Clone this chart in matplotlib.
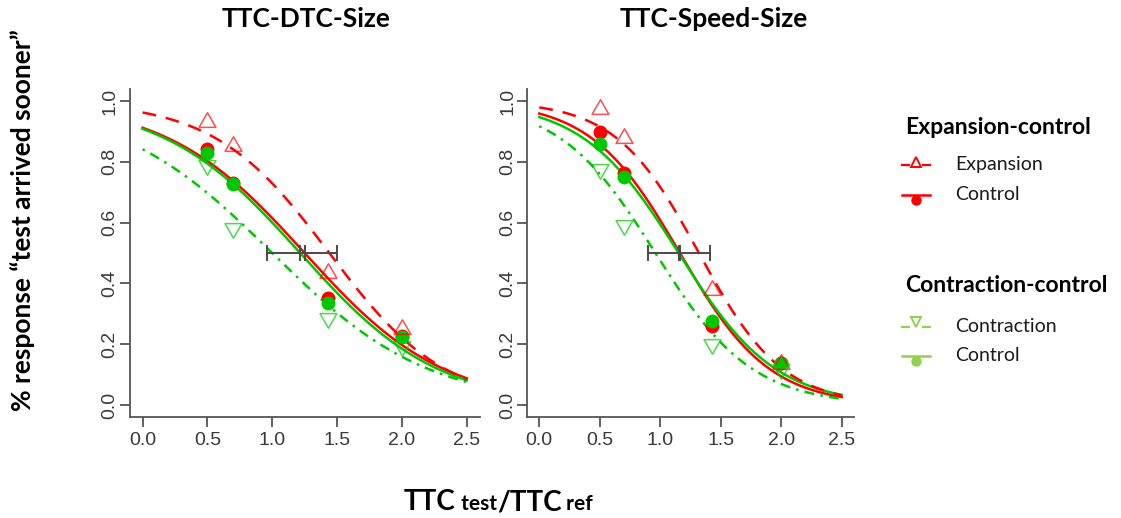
import numpy as np
import matplotlib
matplotlib.use("Agg")
import matplotlib.pyplot as plt
from matplotlib.path import Path
from matplotlib.lines import Line2D

# ---- data -------------------------------------------------------------
ratio = [0.5, 0.7, 1.43, 2.0]          # TTC test / TTC ref levels

panel_titles = ["TTC-DTC-Size", "TTC-Speed-Size"]

# observed proportions "test arrived sooner"
dtc_expansion   = [0.930, 0.851, 0.433, 0.249]
dtc_ctrl_exp    = [0.842, 0.729, 0.353, 0.228]
dtc_ctrl_con    = [0.828, 0.726, 0.334, 0.225]
dtc_contraction = [0.788, 0.581, 0.285, 0.195]

spd_expansion   = [0.975, 0.878, 0.377, 0.135]
spd_ctrl_exp    = [0.899, 0.764, 0.260, 0.137]
spd_ctrl_con    = [0.859, 0.751, 0.277, 0.139]
spd_contraction = [0.776, 0.592, 0.200, 0.120]

# fitted logistic psychometric functions: PSE and spread
# order: expansion, control(exp), control(con), contraction
dtc_pse   = [1.44, 1.25, 1.215, 1.00]
dtc_scale = [0.445, 0.535, 0.53, 0.60]
spd_pse   = [1.32, 1.162, 1.152, 0.96]
spd_scale = [0.345, 0.37, 0.40, 0.40]

# confidence interval of the control PSE
dtc_ci = [0.96, 1.50]
spd_ci = [0.90, 1.41]

x_ticks = [0.0, 0.5, 1.0, 1.5, 2.0, 2.5]
y_ticks = [0.0, 0.2, 0.4, 0.6, 0.8, 1.0]

# ---- styling -----------------------------------------------------------
RED = "#FF0000"
GREEN = "#00C800"
LEG_GREEN = "#92D050"
AX_COL = "#555555"
TXT_FONT = ["Lato", "DejaVu Sans"]
NUM_FONT = ["Liberation Sans", "DejaVu Sans"]

W, H = 1121, 518
fig = plt.figure(figsize=(W / 100, H / 100), dpi=100)


def fx(px):
    return px / W


def fy(py):
    return 1 - py / H


# R-style triangles centred on their centroid
_tri = np.array([[0, 1.5551], [1.3468, -0.7776], [-1.3468, -0.7776], [0, 1.5551]])
TRI_UP = Path(_tri, [Path.MOVETO, Path.LINETO, Path.LINETO, Path.CLOSEPOLY])
TRI_DN = Path(_tri * [1, -1], [Path.MOVETO, Path.LINETO, Path.LINETO, Path.CLOSEPOLY])


def logistic(x, mu, s):
    return 1.0 / (1.0 + np.exp((x - mu) / s))


def draw_panel(ax, obs, pse, scale, ci):
    xx = np.linspace(0, 2.5, 300)
    exp_o, ce_o, cc_o, con_o = obs
    lw = 1.8
    ax.plot(xx, logistic(xx, pse[1], scale[1]), color=RED, lw=lw, zorder=3)
    ax.plot(xx, logistic(xx, pse[2], scale[2]), color=GREEN, lw=lw, zorder=3)
    ax.plot(xx, logistic(xx, pse[0], scale[0]), color=RED, lw=lw,
            dashes=(5.5, 4), zorder=3)
    ax.plot(xx, logistic(xx, pse[3], scale[3]), color=GREEN, lw=lw,
            dashes=(1, 2.5, 4, 2.5), zorder=3)

    ax.plot(ratio, ce_o, "o", color=RED, ms=9, mec=RED, zorder=4)
    ax.plot(ratio, cc_o, "o", color=GREEN, ms=9, mec=GREEN, zorder=5)
    ax.plot(ratio, exp_o, linestyle="none", marker=TRI_UP, ms=14,
            mfc="none", mec=RED, mew=1.1, alpha=0.7, zorder=6)
    ax.plot(ratio, con_o, linestyle="none", marker=TRI_DN, ms=14,
            mfc="none", mec=GREEN, mew=1.1, alpha=0.7, zorder=6)

    # PSE interval of the control conditions
    ax.plot(ci, [0.5, 0.5], color="#4a4a4a", lw=1.4, zorder=7)
    for xv in list(ci) + [pse[1], pse[2]]:
        ax.plot([xv, xv], [0.5 - 0.022, 0.5 + 0.022], color="#4a4a4a",
                lw=1.4, zorder=7)

    ax.set_xlim(-0.1, 2.6)
    ax.set_ylim(-0.04, 1.04)
    ax.set_xticks(x_ticks)
    ax.set_yticks(y_ticks)
    ax.set_xticklabels([f"{v:.1f}" for v in x_ticks])
    ax.set_yticklabels([f"{v:.1f}" for v in y_ticks], rotation=90,
                       va="center")
    for sp in ("top", "right"):
        ax.spines[sp].set_visible(False)
    for sp in ("left", "bottom"):
        ax.spines[sp].set_color(AX_COL)
        ax.spines[sp].set_linewidth(1.3)
    ax.tick_params(direction="out", length=7, width=1.3, color=AX_COL,
                   labelcolor="#3a3a3a", labelsize=14)
    ax.tick_params(axis="x", pad=4)
    ax.tick_params(axis="y", pad=1)
    for lab in ax.get_xticklabels() + ax.get_yticklabels():
        lab.set_family(NUM_FONT)


ax1 = fig.add_axes([fx(129.6), fy(417.2), fx(479.7) - fx(129.6), fy(88.8) - fy(417.2)])
ax2 = fig.add_axes([fx(527.2), fy(417.2), fx(853.8) - fx(527.2), fy(88.8) - fy(417.2)])

draw_panel(ax1, [dtc_expansion, dtc_ctrl_exp, dtc_ctrl_con, dtc_contraction],
           dtc_pse, dtc_scale, dtc_ci)
draw_panel(ax2, [spd_expansion, spd_ctrl_exp, spd_ctrl_con, spd_contraction],
           spd_pse, spd_scale, spd_ci)

# panel titles
fig.text(fx(306), fy(19), panel_titles[0], ha="center", va="center",
         fontsize=19, fontweight="bold", family=TXT_FONT)
fig.text(fx(714), fy(19), panel_titles[1], ha="center", va="center",
         fontsize=19, fontweight="bold", family=TXT_FONT)

# y axis label
fig.text(fx(23), fy(220), "% response \u201ctest arrived sooner\u201d",
         rotation=90, ha="center", va="center", fontsize=19,
         fontweight="bold", family=TXT_FONT)

# x axis label with smaller sub-words
fig.canvas.draw()
renderer = fig.canvas.get_renderer()
pieces = [("TTC", 20), (" test", 15), ("/TTC", 20), (" ref", 15)]
x_cur = 404
for txt, size in pieces:
    t = fig.text(fx(x_cur), fy(510), txt, ha="left", va="baseline",
                 fontsize=size, fontweight="bold", family=TXT_FONT)
    bb = t.get_window_extent(renderer)
    x_cur += bb.width

# legend
def legend_entry(py, color, kind, label):
    x0, x1, xm = 902, 930, 916
    if kind == "dash":
        fig.add_artist(Line2D([fx(x0), fx(909)], [fy(py), fy(py)], color=color, lw=1.6))
        fig.add_artist(Line2D([fx(923), fx(x1)], [fy(py), fy(py)], color=color, lw=1.6))
    else:
        fig.add_artist(Line2D([fx(x0), fx(x1)], [fy(py), fy(py)], color=color, lw=1.8))
    if kind == "dash" and label == "Expansion":
        fig.add_artist(Line2D([fx(xm)], [fy(py - 3)], marker="^", ms=7,
                              mfc="white", mec=color, mew=1.4, linestyle="none"))
    elif kind == "dash":
        fig.add_artist(Line2D([fx(xm)], [fy(py - 5)], marker="v", ms=7,
                              mfc="white", mec=color, mew=1.4, linestyle="none"))
    else:
        fig.add_artist(Line2D([fx(xm + 0.5)], [fy(py + 5)], marker="o", ms=6.5,
                              mfc=color, mec=color, linestyle="none"))
    fig.text(fx(955), fy(py), label, ha="left", va="center", fontsize=14,
             family=TXT_FONT, color="#1a1a1a")


fig.text(fx(905), fy(128), "Expansion-control", ha="left", va="center",
         fontsize=16.5, fontweight="bold", family=TXT_FONT)
legend_entry(165, RED, "dash", "Expansion")
legend_entry(194.5, RED, "solid", "Control")
fig.text(fx(905), fy(286), "Contraction-control", ha="left", va="center",
         fontsize=16.5, fontweight="bold", family=TXT_FONT)
legend_entry(326.5, LEG_GREEN, "dash", "Contraction")
legend_entry(355.5, LEG_GREEN, "solid", "Control")

fig.savefig("out.png", dpi=100)
